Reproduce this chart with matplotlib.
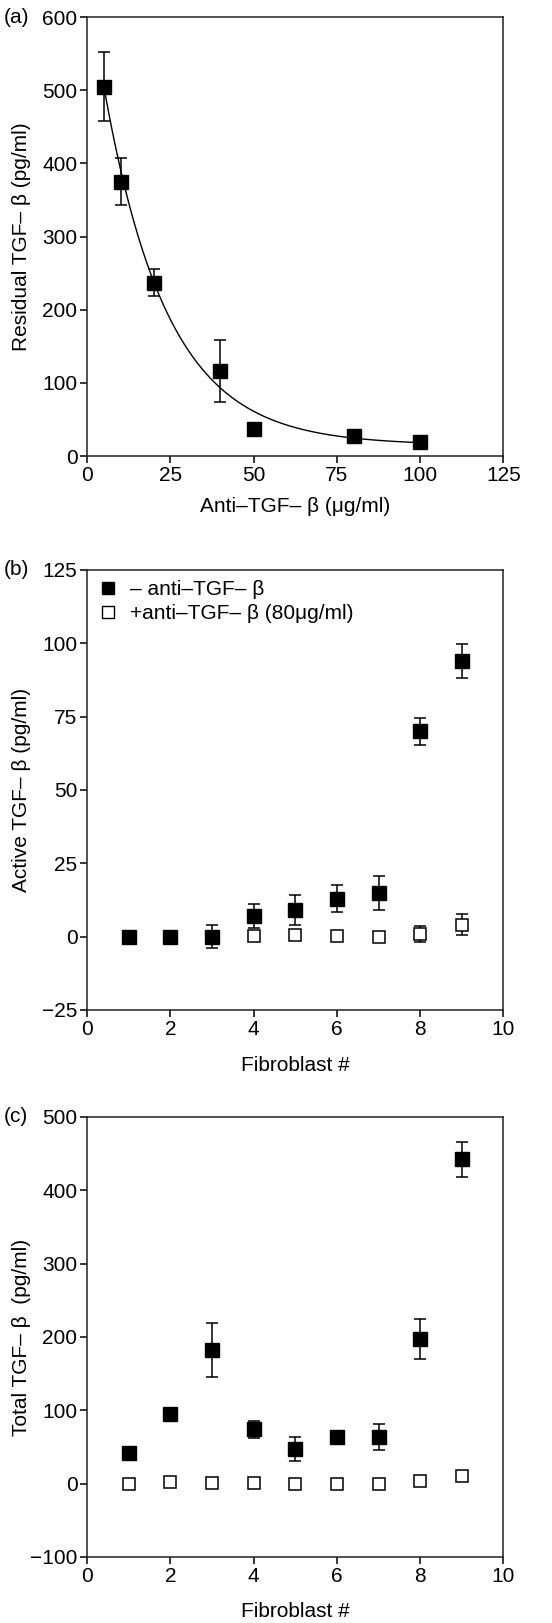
import numpy as np
import matplotlib
matplotlib.use("Agg")
import matplotlib.pyplot as plt
from matplotlib.lines import Line2D

plt.rcParams['font.family'] = ['Liberation Sans', 'DejaVu Sans']
plt.rcParams['font.size'] = 15

# (a) residual TGF-b vs antibody dose
dose = [5, 10, 20, 40, 50, 80, 100]
residual = [505, 375, 237, 116, 37, 27, 19]
residual_err = [47, 32, 18, 42, 0, 0, 0]

# exponential decay fit shown in (a)
fit_plateau = 15.0
fit_span = 490.0
fit_rate = 0.0525

# (b) active TGF-b per fibroblast line
fibroblast = [1, 2, 3, 4, 5, 6, 7, 8, 9]
active_minus = [0, 0, 0, 7, 9, 13, 15, 70, 94]
active_minus_err = [0, 0, 4, 4.1, 5.1, 4.6, 5.8, 4.6, 5.8]
active_plus = [0, 0, 0, 0.2, 0.6, 0.2, 0, 1.0, 4.1]
active_plus_err = [0, 0, 0, 0, 0, 0, 0, 2.8, 3.5]

# (c) total TGF-b per fibroblast line
total_minus = [42, 95, 182, 74, 47, 63.5, 64, 197, 442]
total_minus_err = [0, 0, 37, 11.7, 16.4, 0, 17.6, 27, 24]
total_plus = [-0.5, 1.8, 0.5, 0.5, 0, 0, 0, 4, 11]

FS = 15


def style_axes(ax):
    for s in ax.spines.values():
        s.set_linewidth(1.1)
        s.set_color('#222222')
    ax.tick_params(direction='out', length=5, width=1.1, pad=2, labelsize=FS, colors='black')


fig = plt.figure(figsize=(5.52, 16.23), dpi=100)
ax_a = fig.add_axes([0.158, 0.719, 0.754, 0.2705])
ax_b = fig.add_axes([0.158, 0.3777, 0.754, 0.2711])
ax_c = fig.add_axes([0.158, 0.0407, 0.754, 0.2711])

filled = dict(fmt='s', color='black', markersize=9.8, ecolor='black',
              elinewidth=1.1, capsize=4.5, capthick=1.1)
hollow = dict(fmt='s', markerfacecolor='white', markeredgecolor='black', markeredgewidth=1.1,
              markersize=8.5, ecolor='black', elinewidth=1.1, capsize=4.5, capthick=1.1)

# (a)
xs = np.linspace(dose[0], dose[-1], 300)
ax_a.plot(xs, fit_plateau + fit_span * np.exp(-fit_rate * (xs - dose[0])), color='black', lw=1.0)
ax_a.errorbar(dose, residual, yerr=residual_err, **filled)
ax_a.set_xlim(0, 125)
ax_a.set_ylim(0, 600)
ax_a.set_xticks([0, 25, 50, 75, 100, 125])
ax_a.set_yticks([0, 100, 200, 300, 400, 500, 600])
ax_a.set_xlabel('Anti–TGF– β (μg/ml)', va='top')
ax_a.set_ylabel('Residual TGF– β (pg/ml)')
ax_a.xaxis.set_label_coords(0.5, -0.094)
ax_a.yaxis.set_label_coords(-0.135, 0.5)
ax_a.text(-0.2, 1.0, '(a)', transform=ax_a.transAxes, ha='left', va='center', fontsize=FS)
style_axes(ax_a)

# (b)
ax_b.errorbar(fibroblast, active_plus, yerr=active_plus_err, zorder=2, **hollow)
ax_b.errorbar(fibroblast, active_minus, yerr=active_minus_err, zorder=3, **filled)
ax_b.set_xlim(0, 10)
ax_b.set_ylim(-25, 125)
ax_b.set_xticks([0, 2, 4, 6, 8, 10])
ax_b.set_yticks([-25, 0, 25, 50, 75, 100, 125])
ax_b.set_yticklabels(['−25', '0', '25', '50', '75', '100', '125'])
ax_b.set_xlabel('Fibroblast #', va='top')
ax_b.set_ylabel('Active TGF– β (pg/ml)')
ax_b.xaxis.set_label_coords(0.5, -0.104)
ax_b.yaxis.set_label_coords(-0.135, 0.5)
ax_b.text(-0.2, 1.0, '(b)', transform=ax_b.transAxes, ha='left', va='center', fontsize=FS)
handles = [Line2D([], [], marker='s', color='black', ls='none', markersize=9),
           Line2D([], [], marker='s', markerfacecolor='white', markeredgecolor='black',
                  markeredgewidth=1.0, ls='none', markersize=8)]
ax_b.legend(handles, ['– anti–TGF– β', '+anti–TGF– β (80μg/ml)'], loc='upper left',
            bbox_to_anchor=(-0.015, 1.015), frameon=False, handlelength=1.0, handletextpad=0.55,
            labelspacing=0.25, borderaxespad=0.4, fontsize=FS)
style_axes(ax_b)

# (c)
ax_c.errorbar(fibroblast, total_plus, **hollow)
ax_c.errorbar(fibroblast, total_minus, yerr=total_minus_err, **filled)
ax_c.set_xlim(0, 10)
ax_c.set_ylim(-100, 500)
ax_c.set_xticks([0, 2, 4, 6, 8, 10])
ax_c.set_yticks([-100, 0, 100, 200, 300, 400, 500])
ax_c.set_yticklabels(['−100', '0', '100', '200', '300', '400', '500'])
ax_c.set_xlabel('Fibroblast #', va='top')
ax_c.set_ylabel('Total TGF– β  (pg/ml)')
ax_c.xaxis.set_label_coords(0.5, -0.103)
ax_c.yaxis.set_label_coords(-0.135, 0.5)
ax_c.text(-0.2, 1.0, '(c)', transform=ax_c.transAxes, ha='left', va='center', fontsize=FS)
style_axes(ax_c)

fig.savefig('out.png', dpi=100)
